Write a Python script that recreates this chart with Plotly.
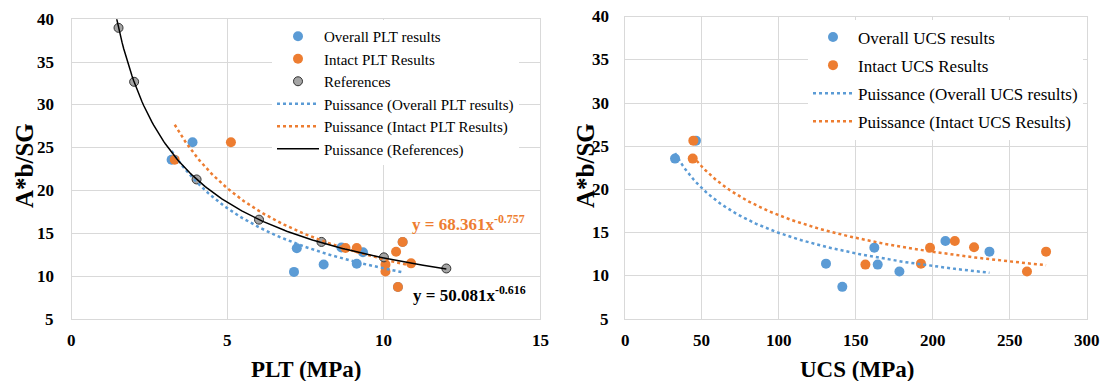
import numpy as np
import plotly.graph_objects as go

# ---- Point load test (PLT) data ----
PLT_X_OVERALL = [3.87, 3.2, 7.21, 7.12, 8.07, 8.64, 9.13, 9.33, 10.6, 10.45]
PLT_Y_OVERALL = [25.65, 23.6, 13.27, 10.5, 11.37, 13.35, 11.45, 12.8, 14.0, 8.73]
PLT_X_INTACT = [5.1, 3.3, 8.77, 9.13, 10.39, 10.6, 10.87, 10.05, 10.05, 10.45]
PLT_Y_INTACT = [25.65, 23.6, 13.3, 13.28, 12.85, 14.0, 11.5, 11.35, 10.55, 8.73]
REF_X = [1.5, 2, 4, 6, 8, 10, 12]
REF_Y = [39.0, 32.7, 21.3, 16.6, 14.0, 12.2, 10.9]

# published power-law coefficients (a, b) for y = a * x^b
PLT_INTACT_FIT = (68.361, -0.757)
REF_FIT = (50.081, -0.616)

# ---- Uniaxial compressive strength (UCS) data ----
UCS_X_OVERALL = [32.5, 46.1, 130.6, 141.2, 162, 164.2, 178.3, 208.2, 236.8]
UCS_Y_OVERALL = [23.57, 25.65, 11.41, 8.72, 13.26, 11.3, 10.49, 14.04, 12.8]
UCS_X_INTACT = [44.4, 44.0, 156.2, 192.3, 198.2, 214.3, 226.8, 261.2, 273.6]
UCS_Y_INTACT = [25.65, 23.57, 11.3, 11.41, 13.24, 14.04, 13.3, 10.49, 12.8]

# ---- axis ticks ----
PLT_TICKS = [0, 5, 10, 15]
UCS_TICKS = [0, 50, 100, 150, 200, 250, 300]
Y_TICKS = [5, 10, 15, 20, 25, 30, 35, 40]

BLUE = "#5B9BD5"
ORANGE = "#ED7D31"
GREY = "#A5A5A5"
GRID = "#D9D9D9"
SERIF = "Liberation Serif"
W, H = 1109, 381


def px_x(p):
    return p / W


def px_y(p):
    return 1 - p / H


def bold(s):
    return f"<b>{s}</b>"


def power_fit(x, y):
    """Least squares in log-log space, like a spreadsheet power trendline."""
    b, ln_a = np.polyfit(np.log(x), np.log(y), 1)
    return np.exp(ln_a), b


def power_curve(coef, x0, x1, n=200):
    a, b = coef
    xs = np.linspace(x0, x1, n)
    return xs, a * xs ** b


fig = go.Figure()

# ---- left panel: PLT ----
fig.add_trace(go.Scatter(x=PLT_X_OVERALL, y=PLT_Y_OVERALL, mode="markers",
                         name="Overall PLT results", legend="legend", legendgroup="a1",
                         marker=dict(color=BLUE, size=10), xaxis="x", yaxis="y"))
fig.add_trace(go.Scatter(x=PLT_X_INTACT, y=PLT_Y_INTACT, mode="markers",
                         name="Intact PLT Results", legend="legend", legendgroup="a2",
                         marker=dict(color=ORANGE, size=10), xaxis="x", yaxis="y"))
fig.add_trace(go.Scatter(x=REF_X, y=REF_Y, mode="markers",
                         name="References", legend="legend", legendgroup="a3",
                         marker=dict(color=GREY, size=9, line=dict(color="#333333", width=1)),
                         xaxis="x", yaxis="y"))

xs, ys = power_curve(power_fit(PLT_X_OVERALL, PLT_Y_OVERALL), min(PLT_X_OVERALL), max(PLT_X_OVERALL))
fig.add_trace(go.Scatter(x=xs, y=ys, mode="lines", name="Puissance (Overall PLT results)",
                         legend="legend", legendgroup="a4",
                         line=dict(color=BLUE, width=2.5, dash="dot"), xaxis="x", yaxis="y"))
xs, ys = power_curve(PLT_INTACT_FIT, min(PLT_X_INTACT), max(PLT_X_INTACT))
fig.add_trace(go.Scatter(x=xs, y=ys, mode="lines", name="Puissance (Intact PLT Results)",
                         legend="legend", legendgroup="a5",
                         line=dict(color=ORANGE, width=2.5, dash="dot"), xaxis="x", yaxis="y"))
xs, ys = power_curve(REF_FIT, min(REF_X) - 0.1, max(REF_X))
fig.add_trace(go.Scatter(x=xs, y=ys, mode="lines", name="Puissance (References)",
                         legend="legend", legendgroup="a6",
                         line=dict(color="black", width=1.5), xaxis="x", yaxis="y"))

# ---- right panel: UCS ----
fig.add_trace(go.Scatter(x=UCS_X_OVERALL, y=UCS_Y_OVERALL, mode="markers",
                         name="Overall UCS results", legend="legend2", legendgroup="b1",
                         marker=dict(color=BLUE, size=10), xaxis="x2", yaxis="y2"))
fig.add_trace(go.Scatter(x=UCS_X_INTACT, y=UCS_Y_INTACT, mode="markers",
                         name="Intact UCS Results", legend="legend2", legendgroup="b2",
                         marker=dict(color=ORANGE, size=10), xaxis="x2", yaxis="y2"))
xs, ys = power_curve(power_fit(UCS_X_OVERALL, UCS_Y_OVERALL), min(UCS_X_OVERALL), max(UCS_X_OVERALL))
fig.add_trace(go.Scatter(x=xs, y=ys, mode="lines", name="Puissance (Overall UCS results)",
                         legend="legend2", legendgroup="b3",
                         line=dict(color=BLUE, width=2.5, dash="dot"), xaxis="x2", yaxis="y2"))
xs, ys = power_curve(power_fit(UCS_X_INTACT, UCS_Y_INTACT), min(UCS_X_INTACT), max(UCS_X_INTACT))
fig.add_trace(go.Scatter(x=xs, y=ys, mode="lines", name="Puissance (Intact UCS Results)",
                         legend="legend2", legendgroup="b4",
                         line=dict(color=ORANGE, width=2.5, dash="dot"), xaxis="x2", yaxis="y2"))

# ---- tick labels and axis titles, set in bold serif ----
tick_font = dict(family=SERIF, size=17, color="black")
notes = []
for t in PLT_TICKS:
    notes.append(dict(x=t, xref="x", y=px_y(340), yref="paper", text=bold(t),
                      xanchor="center", yanchor="middle", showarrow=False, font=tick_font))
for t in UCS_TICKS:
    notes.append(dict(x=t, xref="x2", y=px_y(340), yref="paper", text=bold(t),
                      xanchor="center", yanchor="middle", showarrow=False, font=tick_font))
for t in Y_TICKS:
    notes.append(dict(x=px_x(56), xref="paper", y=t, yref="y", text=bold(t),
                      xanchor="right", yanchor="middle", showarrow=False, font=tick_font))
    notes.append(dict(x=px_x(611), xref="paper", y=t, yref="y2", text=bold(t),
                      xanchor="right", yanchor="middle", showarrow=False, font=tick_font))

xtitle_font = dict(family=SERIF, size=23, color="black")
ytitle_font = dict(family=SERIF, size=25, color="black")
notes += [
    dict(x=px_x(306.5), y=px_y(369), xref="paper", yref="paper", text=bold("PLT (MPa)"),
         xanchor="center", yanchor="middle", showarrow=False, font=xtitle_font),
    dict(x=px_x(856.5), y=px_y(369), xref="paper", yref="paper", text=bold("UCS (MPa)"),
         xanchor="center", yanchor="middle", showarrow=False, font=xtitle_font),
    dict(x=px_x(24), y=px_y(166), xref="paper", yref="paper", text=bold("A*b/SG"), textangle=-90,
         xanchor="center", yanchor="middle", showarrow=False, font=ytitle_font),
    dict(x=px_x(585), y=px_y(166), xref="paper", yref="paper", text=bold("A*b/SG"), textangle=-90,
         xanchor="center", yanchor="middle", showarrow=False, font=ytitle_font),
    # trendline equations
    dict(x=10.82, y=16.2, xref="x", yref="y", xanchor="left", yanchor="middle",
         text=bold("y = %.3fx<sup>%.3f</sup>" % PLT_INTACT_FIT), showarrow=False,
         font=dict(family=SERIF, size=17, color=ORANGE)),
    dict(x=10.88, y=7.9, xref="x", yref="y", xanchor="left", yanchor="middle",
         text=bold("y = %.3fx<sup>%.3f</sup>" % REF_FIT), showarrow=False,
         font=dict(family=SERIF, size=17, color="black")),
]

axis_common = dict(showgrid=True, gridcolor=GRID, gridwidth=1, showline=True, linecolor=GRID,
                   linewidth=1, mirror=True, zeroline=False, ticks="", showticklabels=False)

fig.update_layout(
    width=W, height=H,
    margin=dict(l=0, r=0, t=0, b=0),
    plot_bgcolor="white", paper_bgcolor="white",
    font=dict(family=SERIF, color="black"),
    xaxis=dict(axis_common, domain=[px_x(71.7), px_x(540)], range=[0, 15],
               tickvals=PLT_TICKS, anchor="y"),
    yaxis=dict(axis_common, domain=[px_y(319), px_y(19.3)], range=[5, 40],
               tickvals=Y_TICKS, anchor="x"),
    xaxis2=dict(axis_common, domain=[px_x(625), px_x(1086.7)], range=[0, 300],
                tickvals=UCS_TICKS, anchor="y2"),
    yaxis2=dict(axis_common, domain=[px_y(319), px_y(16.7)], range=[5, 40],
                tickvals=Y_TICKS, anchor="x2"),
    legend=dict(x=px_x(272), y=px_y(20), xanchor="left", yanchor="top", bgcolor="white",
                font=dict(family=SERIF, size=15, color="black"), tracegroupgap=0,
                itemwidth=42, borderwidth=0),
    legend2=dict(x=px_x(808), y=px_y(19.5), xanchor="left", yanchor="top", bgcolor="white",
                 font=dict(family=SERIF, size=17, color="black"), tracegroupgap=3,
                 itemwidth=40, borderwidth=0),
    annotations=notes,
)

fig.write_html("out.html")
